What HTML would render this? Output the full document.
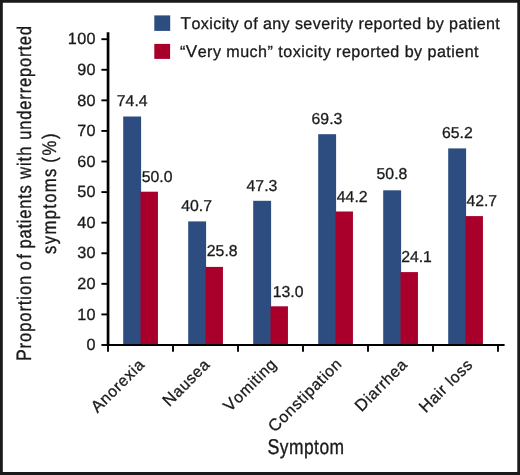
<!DOCTYPE html>
<html lang="en">
<head>
<meta charset="utf-8">
<title>Underreported symptoms</title>
<style>
html,body{margin:0;padding:0;background:#fff;}
body{width:520px;height:475px;overflow:hidden;position:relative;}
#frame{position:absolute;left:0;top:0;width:520px;height:475px;box-sizing:border-box;
 background:#fff;}
svg{position:absolute;left:0;top:0;}
text{font-family:"Liberation Sans",sans-serif;fill:#1a1a1a;stroke:#1a1a1a;stroke-width:0.3px;stroke-linejoin:round;text-rendering:geometricPrecision;font-kerning:none;}
.t{font-size:16.2px;letter-spacing:0.4px;}
.v{font-size:15.8px;letter-spacing:0px;}
.c{font-size:15.8px;letter-spacing:0.65px;}
.lg{font-size:16.1px;}
.ax{font-size:19.6px;stroke-width:0.35px;}
.axc{font-size:20.9px;}
.cap{font-size:106%;}
</style>
</head>
<body>
<div id="frame"></div>
<svg width="520" height="475" viewBox="0 0 520 475">

<path fill="#1a1a1a" fill-rule="evenodd" d="M0 0H520V475H0Z M2.8 2.7V472H517.3V2.7Z"/>
<rect x="154.3" y="15.4" width="15.9" height="15.5" fill="#2d4c7f"/>
<rect x="154.3" y="43.9" width="15.8" height="15.0" fill="#a8002b"/>
<text class="lg" style="letter-spacing:0.40px" x="180.6" y="28.8"><tspan class="cap">T</tspan>oxicity of any severity reported by patient</text>
<text class="lg" style="letter-spacing:0.46px" x="180.0" y="57">“<tspan class="cap">V</tspan>ery much” toxicity reported by patient</text>
<rect x="123.20" y="116.50" width="17.90" height="228.40" fill="#2d4c7f"/>
<rect x="140.50" y="191.70" width="17.45" height="153.20" fill="#a8002b"/>
<rect x="188.20" y="221.40" width="17.90" height="123.50" fill="#2d4c7f"/>
<rect x="205.50" y="266.90" width="17.45" height="78.00" fill="#a8002b"/>
<rect x="253.20" y="200.80" width="17.90" height="144.10" fill="#2d4c7f"/>
<rect x="270.50" y="306.30" width="17.45" height="38.60" fill="#a8002b"/>
<rect x="318.20" y="134.20" width="17.90" height="210.70" fill="#2d4c7f"/>
<rect x="335.50" y="211.50" width="17.45" height="133.40" fill="#a8002b"/>
<rect x="383.20" y="190.30" width="17.90" height="154.60" fill="#2d4c7f"/>
<rect x="400.50" y="272.10" width="17.45" height="72.80" fill="#a8002b"/>
<rect x="448.20" y="148.40" width="17.90" height="196.50" fill="#2d4c7f"/>
<rect x="465.50" y="216.10" width="17.45" height="128.80" fill="#a8002b"/>
<g stroke="#000000" fill="none">
<path stroke-width="2.7" d="M108.05 32.3 V345.9"/>
<path stroke-width="2.05" d="M106.7 344.9 H504.6"/>
<g stroke-width="1.9">
<path d="M101.4 345.00 H108.0"/>
<path d="M101.4 314.42 H108.0"/>
<path d="M101.4 283.84 H108.0"/>
<path d="M101.4 253.26 H108.0"/>
<path d="M101.4 222.68 H108.0"/>
<path d="M101.4 192.10 H108.0"/>
<path d="M101.4 161.52 H108.0"/>
<path d="M101.4 130.94 H108.0"/>
<path d="M101.4 100.36 H108.0"/>
<path d="M101.4 69.78 H108.0"/>
<path d="M101.4 39.20 H108.0"/>
<path d="M173.00 344.9 V351.8"/>
<path d="M238.00 344.9 V351.8"/>
<path d="M303.00 344.9 V351.8"/>
<path d="M368.00 344.9 V351.8"/>
<path d="M433.00 344.9 V351.8"/>
<path d="M498.00 344.9 V351.8"/>
<path d="M108.00 344.9 V351.8"/>
</g></g>
<text class="t" text-anchor="end" x="96.0" y="350.15">0</text>
<text class="t" text-anchor="end" x="96.0" y="319.57">10</text>
<text class="t" text-anchor="end" x="96.0" y="288.99">20</text>
<text class="t" text-anchor="end" x="96.0" y="258.41">30</text>
<text class="t" text-anchor="end" x="96.0" y="227.83">40</text>
<text class="t" text-anchor="end" x="96.0" y="197.25">50</text>
<text class="t" text-anchor="end" x="96.0" y="166.67">60</text>
<text class="t" text-anchor="end" x="96.0" y="136.09">70</text>
<text class="t" text-anchor="end" x="96.0" y="105.51">80</text>
<text class="t" text-anchor="end" x="96.0" y="74.93">90</text>
<text class="t" text-anchor="end" x="96.0" y="44.35">100</text>
<text class="v" text-anchor="middle" x="132.20" y="106.00">74.4</text>
<text class="v" text-anchor="middle" x="157.05" y="181.60">50.0</text>
<text class="v" text-anchor="middle" x="196.65" y="210.90">40.7</text>
<text class="v" text-anchor="middle" x="222.20" y="256.20">25.8</text>
<text class="v" text-anchor="middle" x="261.95" y="190.80">47.3</text>
<text class="v" text-anchor="middle" x="288.05" y="296.50">13.0</text>
<text class="v" text-anchor="middle" x="326.95" y="123.70">69.3</text>
<text class="v" text-anchor="middle" x="352.20" y="201.50">44.2</text>
<text class="v" text-anchor="middle" x="391.95" y="179.20">50.8</text>
<text class="v" text-anchor="middle" x="416.50" y="262.30">24.1</text>
<text class="v" text-anchor="middle" x="457.30" y="137.60">65.2</text>
<text class="v" text-anchor="middle" x="481.75" y="205.70">42.7</text>
<text class="c" text-anchor="end" transform="translate(145.70 365.40) rotate(-45)"><tspan class="cap">A</tspan>norexia</text>
<text class="c" text-anchor="end" transform="translate(210.95 365.40) rotate(-45)"><tspan class="cap">N</tspan>ausea</text>
<text class="c" text-anchor="end" transform="translate(277.70 365.00) rotate(-45)"><tspan class="cap">V</tspan>omiting</text>
<text class="c" text-anchor="end" transform="translate(342.95 364.80) rotate(-45)"><tspan class="cap">C</tspan>onstipation</text>
<text class="c" text-anchor="end" transform="translate(408.40 365.40) rotate(-45)"><tspan class="cap">D</tspan>iarrhea</text>
<text class="c" text-anchor="end" transform="translate(473.75 365.40) rotate(-45)"><tspan class="cap">H</tspan>air loss</text>
<text class="ax" transform="translate(30.7 359.9) rotate(-90) scale(0.85 1)"><tspan x="-1.41" style="letter-spacing:1.03px"><tspan class="axc">P</tspan>roportion </tspan><tspan x="105.32" style="letter-spacing:2.71px">of </tspan><tspan x="131.17" style="letter-spacing:0.82px">patients </tspan><tspan x="212.69" style="letter-spacing:1.16px">with </tspan><tspan x="258.94" style="letter-spacing:0.91px">underreported</tspan></text>
<text class="ax" transform="translate(55.9 253.5) rotate(-90) scale(0.85 1)"><tspan x="-0.53" style="letter-spacing:1.59px">symptoms </tspan><tspan x="106.67" style="letter-spacing:1.99px">(%)</tspan></text>
<text class="ax" style="font-size:20.9px;letter-spacing:0.55px" transform="translate(267.4 454.4) scale(0.835 1)"><tspan style="font-size:21.4px">S</tspan>ymptom</text>
</svg>
</body>
</html>
